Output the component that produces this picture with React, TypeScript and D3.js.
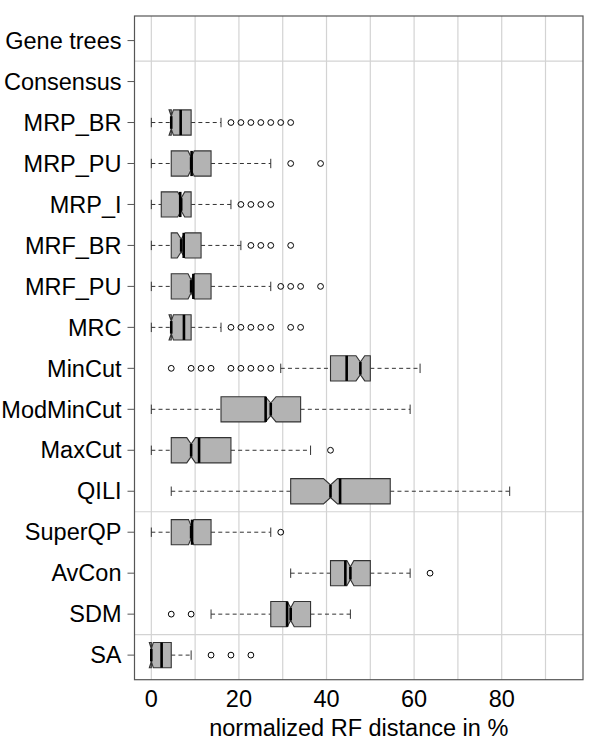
import React from "react";
import * as d3 from "d3";

const categories = ["Gene trees", "Consensus", "MRP_BR", "MRP_PU", "MRP_I", "MRF_BR", "MRF_PU", "MRC", "MinCut", "ModMinCut", "MaxCut", "QILI", "SuperQP", "AvCon", "SDM", "SA"];

const methods = ["MRP_BR", "MRP_PU", "MRP_I", "MRF_BR", "MRF_PU", "MRC", "MinCut", "ModMinCut", "MaxCut", "QILI", "SuperQP", "AvCon", "SDM", "SA"];
const whiskerLow = [0, 0, 0, 0, 0, 0, 29.55, 0, 0, 4.55, 0, 31.82, 13.64, 0];
const q1 = [4.55, 4.55, 2.27, 4.55, 4.55, 4.55, 40.91, 15.91, 4.55, 31.82, 4.55, 40.91, 27.27, 0];
const median = [4.55, 9.09, 6.82, 6.82, 9.09, 4.55, 47.73, 27.27, 9.09, 40.91, 9.09, 45.45, 31.82, 0];
const q3 = [9.09, 13.64, 9.09, 11.36, 13.64, 9.09, 50, 34.09, 18.18, 54.55, 13.64, 50, 36.36, 4.55];
const whiskerHigh = [15.91, 27.27, 18.18, 20.45, 27.27, 15.91, 61.36, 59.09, 36.36, 81.82, 27.27, 59.09, 45.45, 9.09];
const meanLine = [6.7, 9.2, 6.6, 7.4, 9.6, 7.45, 44.6, 26.1, 10.9, 43.1, 9.3, 44.3, 31.0, 2.35];
const notchHalf = [0.5, 0.7, 0.8, 0.9, 0.7, 0.5, 1.0, 1.2, 1.0, 1.6, 0.6, 0.8, 0.8, 0.45];
const outliers = [
  [18.18, 20.45, 22.73, 25, 27.27, 29.55, 31.82],
  [31.82, 38.64],
  [20.45, 22.73, 25, 27.27],
  [22.73, 25, 27.27, 31.82],
  [29.55, 31.82, 34.09, 38.64],
  [18.18, 20.45, 22.73, 25, 27.27, 31.82, 34.09],
  [4.55, 9.09, 11.36, 13.64, 18.18, 20.45, 22.73, 25, 27.27],
  [],
  [40.91],
  [],
  [29.55],
  [63.64],
  [4.55, 9.09],
  [13.64, 18.18, 22.73],
];

const gridValues = [0, 10, 20, 30, 40, 50, 60, 70, 80, 90];
const tickValues = [0, 20, 40, 60, 80];
const separatorsAfter = ["Gene trees", "QILI", "SDM"];
const xTitle = "normalized RF distance in %";

const W = 600;
const H = 741;
const plotLeft = 134.5;
const plotRight = 583;
const plotTop = 16;
const plotBottom = 679.7;

export default function App() {
  const x = d3.scaleLinear().domain([-3.84, 98.56]).range([plotLeft, plotRight]);
  const y = d3.scaleLinear().domain([0.4, categories.length + 0.6]).range([plotTop, plotBottom]);
  const yc = (name: string) => y(categories.indexOf(name) + 1);
  const h = 12.6;
  const font = "'Liberation Sans', Arial, Helvetica, sans-serif";

  return (
    <svg width={W} height={H} style={{ position: "absolute", left: 0, top: 0, background: "#fff" }} fontFamily={font}>
      <rect x={0} y={0} width={W} height={H} fill="#fff" />
      {gridValues.map((g) => (
        <line key={"g" + g} x1={x(g)} x2={x(g)} y1={plotTop} y2={plotBottom} stroke="#d3d3d3" strokeWidth={1.2} />
      ))}
      {separatorsAfter.map((s) => {
        const yy = y(categories.indexOf(s) + 1.5);
        return <line key={"s" + s} x1={plotLeft} x2={plotRight} y1={yy} y2={yy} stroke="#d3d3d3" strokeWidth={1.2} />;
      })}
      {methods.map((m, i) => {
        const cy = yc(m);
        const nlo = median[i] - notchHalf[i];
        const nhi = median[i] + notchHalf[i];
        const pts: [number, number][] = [
          [x(q1[i]), cy - h],
          [x(nlo), cy - h],
          [x(median[i]), cy - h / 2],
          [x(nhi), cy - h],
          [x(q3[i]), cy - h],
          [x(q3[i]), cy + h],
          [x(nhi), cy + h],
          [x(median[i]), cy + h / 2],
          [x(nlo), cy + h],
          [x(q1[i]), cy + h],
        ];
        const path = d3.line()(pts) + "Z";
        const st = 4.7;
        return (
          <g key={m}>
            {whiskerLow[i] < q1[i] && (
              <line x1={x(whiskerLow[i])} x2={x(q1[i])} y1={cy} y2={cy} stroke="#333" strokeWidth={1} strokeDasharray="4,3.2" />
            )}
            <line x1={x(q3[i])} x2={x(whiskerHigh[i])} y1={cy} y2={cy} stroke="#333" strokeWidth={1} strokeDasharray="4,3.2" />
            <line x1={x(whiskerLow[i])} x2={x(whiskerLow[i])} y1={cy - st} y2={cy + st} stroke="#333" strokeWidth={1} />
            <line x1={x(whiskerHigh[i])} x2={x(whiskerHigh[i])} y1={cy - st} y2={cy + st} stroke="#333" strokeWidth={1} />
            <path d={path} fill="#b3b3b3" stroke="#333" strokeWidth={1.1} strokeLinejoin="miter" />
            <line x1={x(median[i])} x2={x(median[i])} y1={cy - h / 2} y2={cy + h / 2} stroke="#000" strokeWidth={2.6} />
            <line x1={x(meanLine[i])} x2={x(meanLine[i])} y1={cy - h} y2={cy + h} stroke="#000" strokeWidth={2.6} />
            {outliers[i].map((o, j) => (
              <circle key={j} cx={x(o)} cy={cy} r={2.9} fill="none" stroke="#000" strokeWidth={1} />
            ))}
          </g>
        );
      })}
      <rect x={plotLeft} y={plotTop} width={plotRight - plotLeft} height={plotBottom - plotTop} fill="none" stroke="#555" strokeWidth={1.2} />
      {categories.map((c) => {
        const cy = yc(c);
        return (
          <g key={"yl" + c}>
            <line x1={plotLeft - 7} x2={plotLeft} y1={cy} y2={cy} stroke="#555" strokeWidth={1} />
            <text x={plotLeft - 13} y={cy} dy="0.35em" textAnchor="end" fontSize={23.5} fill="#000">{c}</text>
          </g>
        );
      })}
      {tickValues.map((t) => (
        <text key={"xt" + t} x={x(t)} y={706.5} textAnchor="middle" fontSize={23.5} fill="#000">{t}</text>
      ))}
      <text x={(plotLeft + plotRight) / 2} y={735.5} textAnchor="middle" fontSize={23.5} fill="#000">{xTitle}</text>
    </svg>
  );
}
